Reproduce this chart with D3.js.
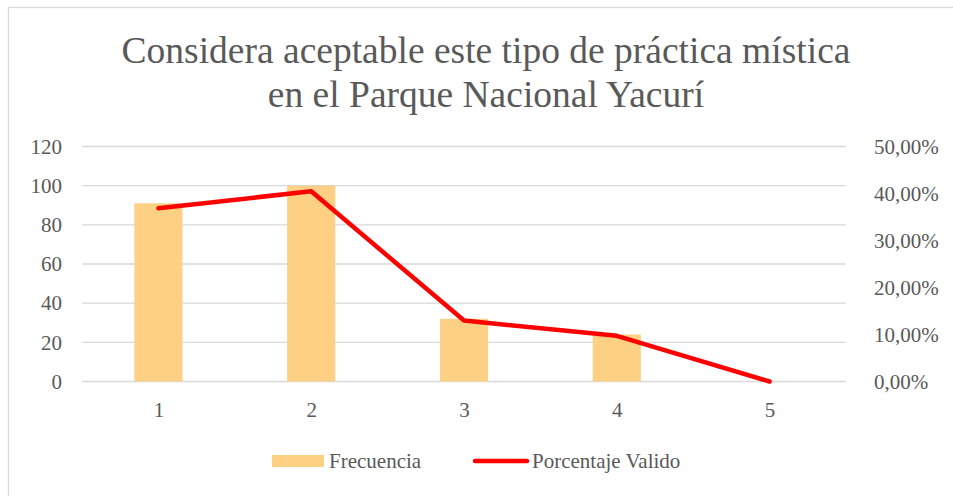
<!DOCTYPE html>
<html>
<head>
<meta charset="utf-8">
<script src="https://cdn.jsdelivr.net/npm/d3@7"></script>
<style>
  body { margin: 0; background: #fff; }
</style>
</head>
<body>
<div id="chart"></div>
<script>
var categories = ['1', '2', '3', '4', '5'];
var frecuencia = [91, 100, 32, 24, 0];
var porcentaje = [0.3684, 0.4049, 0.1296, 0.0972, 0];
var leftTicks = [0, 20, 40, 60, 80, 100, 120];
var rightTicks = [0, 0.1, 0.2, 0.3, 0.4, 0.5];
var titleLines = ['Considera aceptable este tipo de práctica mística', 'en el Parque Nacional Yacurí'];

var width = 953, height = 496;
var margin = {top: 146.5, right: 107, bottom: 114.5, left: 82};
var textColor = '#595959';
var serif = 'Liberation Serif, Times New Roman, serif';

var svg = d3.select('#chart').append('svg')
    .attr('width', width)
    .attr('height', height)
    .attr('font-family', serif)
    .style('display', 'block');

// chart frame
svg.append('rect')
    .attr('x', 8.5).attr('y', 7.5)
    .attr('width', width + 20).attr('height', height + 20)
    .attr('fill', '#fff')
    .attr('stroke', '#d9d9d9')
    .attr('stroke-width', 1.3);

// title
svg.append('text')
    .attr('text-anchor', 'middle')
    .attr('fill', textColor)
    .attr('font-family', serif)
    .attr('font-size', 37.5)
    .selectAll('tspan')
    .data(titleLines)
    .enter().append('tspan')
    .attr('x', 486)
    .attr('y', (d, i) => 63 + i * 44)
    .text(d => d);

var x = d3.scaleBand()
    .domain(categories)
    .range([margin.left, width - margin.right])
    .paddingInner(0.685)
    .paddingOuter(0.3425);

var xPoint = d3.scalePoint()
    .domain(categories)
    .range([margin.left, width - margin.right])
    .padding(0.5);

var y = d3.scaleLinear()
    .domain([0, 120])
    .range([height - margin.bottom, margin.top]);

var y2 = d3.scaleLinear()
    .domain([0, 0.5])
    .range([height - margin.bottom, margin.top]);

// gridlines
svg.append('g')
    .selectAll('line')
    .data(leftTicks)
    .enter().append('line')
    .attr('x1', margin.left)
    .attr('x2', width - margin.right)
    .attr('y1', d => y(d))
    .attr('y2', d => y(d))
    .attr('stroke', '#d9d9d9')
    .attr('stroke-width', 1.3);

function styleAxis(g) {
    g.select('.domain').remove();
    g.attr('font-family', serif);
    g.selectAll('text')
        .attr('fill', textColor)
        .attr('font-size', 21)
        .attr('font-family', serif);
}

// left axis
svg.append('g')
    .attr('transform', 'translate(' + (margin.left - 20) + ',0)')
    .call(d3.axisLeft(y).tickValues(leftTicks).tickSize(0).tickPadding(0))
    .call(styleAxis);

// right axis
var fmtPct = d => d3.format('.2f')(d * 100).replace('.', ',') + '%';
svg.append('g')
    .attr('transform', 'translate(' + (width - margin.right + 28) + ',0)')
    .call(d3.axisRight(y2).tickValues(rightTicks).tickFormat(fmtPct).tickSize(0).tickPadding(0))
    .call(styleAxis);

// bottom axis
svg.append('g')
    .attr('transform', 'translate(0,' + (height - margin.bottom) + ')')
    .call(d3.axisBottom(xPoint).tickSize(0).tickPadding(21))
    .call(styleAxis);

// bars
svg.append('g')
    .selectAll('rect')
    .data(frecuencia)
    .enter().append('rect')
    .attr('x', (d, i) => x(categories[i]))
    .attr('y', d => y(d))
    .attr('width', x.bandwidth())
    .attr('height', d => y(0) - y(d))
    .attr('fill', '#fed084');

// line
var line = d3.line()
    .x((d, i) => xPoint(categories[i]))
    .y(d => y2(d));

svg.append('path')
    .datum(porcentaje)
    .attr('d', line)
    .attr('fill', 'none')
    .attr('stroke', '#ff0000')
    .attr('stroke-width', 4.5)
    .attr('stroke-linecap', 'round')
    .attr('stroke-linejoin', 'round');

// legend
var legend = svg.append('g')
    .attr('font-family', serif)
    .attr('font-size', 21)
    .attr('fill', textColor);
legend.append('rect')
    .attr('x', 272).attr('y', 455)
    .attr('width', 52).attr('height', 12)
    .attr('fill', '#fed084');
legend.append('text')
    .attr('x', 329).attr('y', 468)
    .text('Frecuencia');
legend.append('line')
    .attr('x1', 475).attr('x2', 527)
    .attr('y1', 461).attr('y2', 461)
    .attr('stroke', '#ff0000')
    .attr('stroke-width', 4.5)
    .attr('stroke-linecap', 'round');
legend.append('text')
    .attr('x', 532).attr('y', 468)
    .text('Porcentaje Valido');
</script>
</body>
</html>
